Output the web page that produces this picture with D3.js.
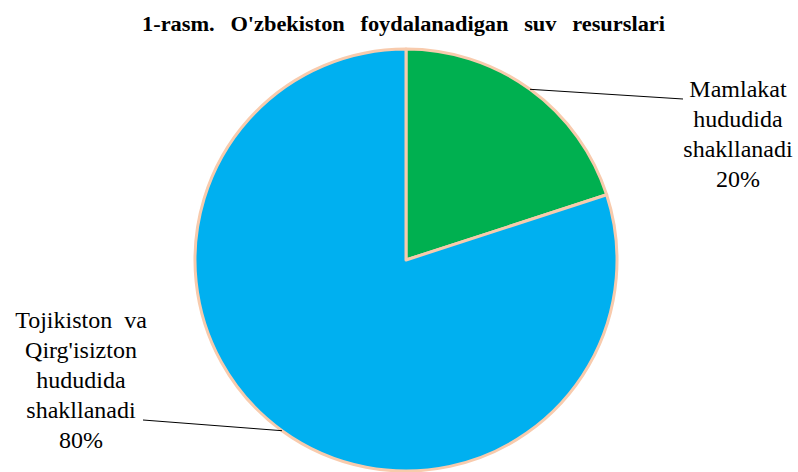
<!DOCTYPE html>
<html>
<head>
<meta charset="utf-8">
<script src="https://cdn.jsdelivr.net/npm/d3@7"></script>
<style>
  body { margin: 0; background: #fff; }
  svg text, svg tspan { font-family: "Liberation Serif", "DejaVu Serif", serif; fill: #000; }
</style>
</head>
<body>
<svg id="chart" width="798" height="472"></svg>
<script>
"use strict";

// data
const title = "1-rasm.  O'zbekiston  foydalanadigan  suv  resurslari";
const categories = ["Mamlakat hududida shakllanadi", "Tojikiston va Qirg'isizton hududida shakllanadi"];
const values = [20, 80];
const labelLines = [
    ["Mamlakat", "hududida", "shakllanadi", "20%"],
    ["Tojikiston  va", "Qirg'isizton", "hududida", "shakllanadi", "80%"]
];
const sliceColors = ["#00B050", "#00B0F0"];



// setting
const setting = {
    width: 798,
    height: 472,
    center: { x: 406, y: 260 },
    radius: 211,
    stroke: "#F8CBAD",
    strokeWidth: 3,
    fontFamily: "Liberation Serif",
    fontSize: 24,
    lineHeight: 30,
    title: { left: 142, right: 665, baseline: 31, fontSize: 20, wordSpacing: 2 }
};



let svg = d3.select("#chart");



// title, stretched to the measured width
svg.append("text")
.attr("x", setting.title.left)
.attr("y", setting.title.baseline)
.attr("font-family", setting.fontFamily)
.attr("font-weight", "bold")
.attr("font-size", setting.title.fontSize)
.attr("word-spacing", setting.title.wordSpacing)
.attr("textLength", setting.title.right - setting.title.left)
.attr("lengthAdjust", "spacingAndGlyphs")
.style("white-space", "pre")
.text(title);



// pie
let pie = d3.pie()
.sort(null)
.value(d => d);

let arc = d3.arc()
.innerRadius(0)
.outerRadius(setting.radius);

let arcs = pie(values);

let g = svg.append("g")
.attr("transform", `translate(${setting.center.x}, ${setting.center.y})`);

g.selectAll("path")
.data(arcs)
.enter()
.append("path")
.attr("d", arc)
.attr("fill", (d, i) => sliceColors[i])
.attr("stroke", setting.stroke)
.attr("stroke-width", setting.strokeWidth)
.attr("stroke-linejoin", "round");



// labels + leader lines
const labelPos = [
    { x: 738, y: 97, lineEnd: [683, 99] },
    { x: 81, y: 328, lineEnd: [143, 420] }
];

arcs.forEach((d, i) => {
    let mid = (d.startAngle + d.endAngle) / 2;
    let px = setting.center.x + Math.sin(mid) * setting.radius;
    let py = setting.center.y - Math.cos(mid) * setting.radius;
    let pos = labelPos[i];

    svg.append("line")
    .attr("x1", px)
    .attr("y1", py)
    .attr("x2", pos.lineEnd[0])
    .attr("y2", pos.lineEnd[1])
    .attr("stroke", "#000")
    .attr("stroke-width", 1);

    let t = svg.append("text")
    .attr("text-anchor", "middle")
    .attr("font-family", setting.fontFamily)
    .attr("font-size", setting.fontSize)
    .style("white-space", "pre");

    labelLines[i].forEach((line, k) => {
        t.append("tspan")
        .attr("x", pos.x)
        .attr("y", pos.y + k * setting.lineHeight)
        .text(line);
    });
});
</script>
</body>
</html>
